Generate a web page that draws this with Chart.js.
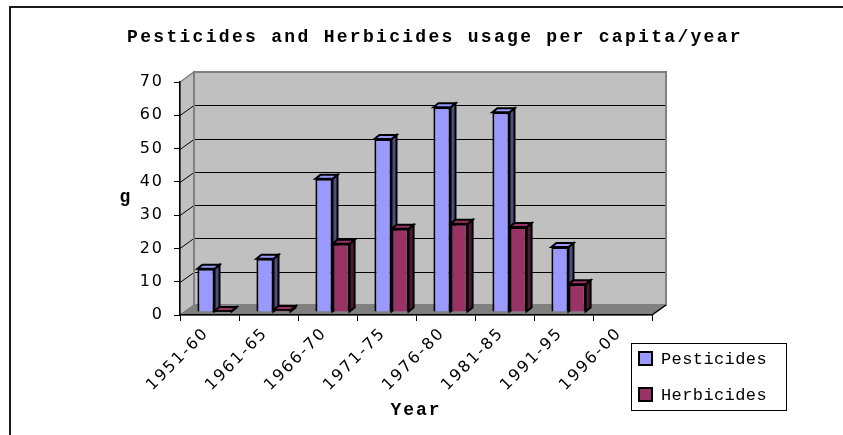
<!DOCTYPE html>
<html>
<head>
<meta charset="utf-8">
<script src="https://cdn.jsdelivr.net/npm/chart.js@4"></script>
<style>
  body { margin: 0; background: #fff; }
  #wrap { width: 843px; height: 435px; }
</style>
</head>
<body>
<div id="wrap"><canvas id="usageChart"></canvas></div>
<script>
const chartTitle = 'Pesticides and Herbicides usage per capita/year';
const yAxisTitle = 'g';
const xAxisTitle = 'Year';
const periods = ['1951-60', '1961-65', '1966-70', '1971-75', '1976-80', '1981-85', '1991-95', '1996-00'];
const pesticides = [13, 16, 40, 52, 61.5, 60, 19.5, null];
const herbicides = [0.3, 0.6, 20.5, 25, 26.5, 25.5, 8.3, null];
const yTicks = [0, 10, 20, 30, 40, 50, 60, 70];

// excel-like 3d look
const wallDepth = { x: 14, y: -10 };
const barShift = { x: 5, y: -3 };
const barDepth = { x: 5, y: -4 };

function poly(ctx, pts, fill, stroke, lw) {
    ctx.beginPath();
    ctx.moveTo(pts[0][0], pts[0][1]);
    for (let i = 1; i < pts.length; i++) ctx.lineTo(pts[i][0], pts[i][1]);
    ctx.closePath();
    if (fill) { ctx.fillStyle = fill; ctx.fill(); }
    if (stroke) { ctx.strokeStyle = stroke; ctx.lineWidth = lw; ctx.stroke(); }
}

const excel3d = {
    id: 'excel3d',
    beforeDraw(chart) {
        const ctx = chart.ctx;
        const a = chart.chartArea;
        const y = chart.scales.y;
        const d = wallDepth;
        ctx.save();
        ctx.fillStyle = '#fff';
        ctx.fillRect(0, 0, chart.width, chart.height);

        // outer frame (top + left only are visible)
        ctx.strokeStyle = '#1a1a1a';
        ctx.lineWidth = 2;
        ctx.beginPath();
        ctx.moveTo(10, chart.height);
        ctx.lineTo(10, 7);
        ctx.lineTo(chart.width, 7);
        ctx.stroke();

        // walls and floor
        ctx.fillStyle = '#c0c0c0';
        ctx.fillRect(a.left + d.x, a.top + d.y, a.right - a.left, a.bottom - a.top);
        poly(ctx, [[a.left, a.top], [a.left + d.x, a.top + d.y], [a.left + d.x, a.bottom + d.y], [a.left, a.bottom]], '#c0c0c0', '#808080', 1.5);
        poly(ctx, [[a.left, a.bottom], [a.left + d.x, a.bottom + d.y], [a.right + d.x, a.bottom + d.y], [a.right, a.bottom]], '#808080', '#808080', 1);

        // gridlines on side wall + back wall
        ctx.strokeStyle = '#000';
        ctx.lineWidth = 1;
        y.ticks.forEach(t => {
            if (t.value === y.min || t.value === y.max) return;
            const py = Math.round(y.getPixelForValue(t.value)) + 0.5;
            ctx.beginPath();
            ctx.moveTo(a.left, py);
            ctx.lineTo(a.left + d.x, py + d.y);
            ctx.lineTo(a.right + d.x, py + d.y);
            ctx.stroke();
        });

        ctx.strokeStyle = '#808080';
        ctx.lineWidth = 2;
        ctx.strokeRect(a.left + d.x, a.top + d.y, a.right - a.left, a.bottom - a.top);

        ctx.strokeStyle = '#000';
        ctx.lineWidth = 1.5;
        ctx.beginPath();
        ctx.moveTo(a.right, a.bottom);
        ctx.lineTo(a.right + d.x, a.bottom + d.y);
        ctx.stroke();
        ctx.restore();

        ctx.letterSpacing = '2px';
    },
    beforeDatasetsDraw(chart) {
        const ctx = chart.ctx;
        ctx.save();
        ctx.translate(barShift.x, barShift.y);
        chart.data.datasets.forEach((ds, i) => {
            const meta = chart.getDatasetMeta(i);
            meta.data.forEach((bar, idx) => {
                if (ds.data[idx] == null) return;
                const p = bar.getProps(['x', 'y', 'base', 'width'], true);
                const l = p.x - p.width / 2;
                const r = p.x + p.width / 2;
                poly(ctx, [[r, p.y], [r + barDepth.x, p.y + barDepth.y], [r + barDepth.x, p.base + barDepth.y], [r, p.base]], ds.sideColor, '#000', 2);
                poly(ctx, [[l, p.y], [l + barDepth.x, p.y + barDepth.y], [r + barDepth.x, p.y + barDepth.y], [r, p.y]], ds.topColor, '#000', 2);
            });
        });
    },
    afterDatasetsDraw(chart) {
        chart.ctx.restore();
    },
    afterDraw(chart) {
        const ctx = chart.ctx;
        ctx.save();
        ctx.fillStyle = '#000';

        // title
        ctx.letterSpacing = '2.3px';
        ctx.font = 'bold 18px "Liberation Mono"';
        ctx.textAlign = 'center';
        ctx.textBaseline = 'middle';
        ctx.fillText(chartTitle, 435, 37);

        // y axis title, not rotated
        ctx.letterSpacing = '0px';
        ctx.textBaseline = 'alphabetic';
        ctx.fillText(yAxisTitle, 125, 202);

        // legend
        ctx.fillStyle = '#fff';
        ctx.fillRect(631, 343, 155, 67);
        ctx.strokeStyle = '#000';
        ctx.lineWidth = 1;
        ctx.strokeRect(631.5, 343.5, 155, 67);
        ctx.font = '17px "Liberation Mono"';
        ctx.letterSpacing = '0.4px';
        ctx.textAlign = 'left';
        ctx.textBaseline = 'middle';
        chart.data.datasets.forEach((ds, i) => {
            const top = 352 + i * 36;
            ctx.fillStyle = ds.backgroundColor;
            ctx.fillRect(639, top, 13, 13);
            ctx.lineWidth = 2;
            ctx.strokeRect(639, top, 13, 13);
            ctx.fillStyle = '#000';
            ctx.fillText(ds.label, 661, top + 7);
        });
        ctx.restore();
        ctx.letterSpacing = '0px';
    }
};

const tickFont = { family: 'DejaVu Sans', size: 16 };

const ctx = document.getElementById('usageChart').getContext('2d');
const usageChart = new Chart(ctx, {
    type: 'bar',
    data: {
        labels: periods,
        datasets: [{
            label: 'Pesticides',
            data: pesticides,
            backgroundColor: '#9999ff',
            sideColor: '#4d4d80',
            topColor: '#9999ff',
            borderColor: '#000',
            borderWidth: 2
        }, {
            label: 'Herbicides',
            data: herbicides,
            backgroundColor: '#993366',
            sideColor: '#4d1a33',
            topColor: '#993366',
            borderColor: '#000',
            borderWidth: 2
        }]
    },
    options: {
        responsive: true,
        maintainAspectRatio: false,
        animation: false,
        devicePixelRatio: 1,
        layout: { padding: { top: 82, right: 191, left: 0, bottom: 0 } },
        datasets: {
            bar: { categoryPercentage: 0.58, barPercentage: 1 }
        },
        plugins: {
            legend: { display: false },
            title: { display: false },
            tooltip: { enabled: false }
        },
        scales: {
            x: {
                afterFit(scale) { scale.height = 120; },
                grid: { drawOnChartArea: false, drawTicks: true, tickLength: 6, color: '#000' },
                border: { display: true, color: '#000', width: 1.5 },
                ticks: {
                    font: tickFont,
                    color: '#000',
                    minRotation: 45,
                    maxRotation: 45,
                    autoSkip: false,
                    padding: 3,
                    labelOffset: -3
                },
                title: {
                    display: true,
                    text: xAxisTitle,
                    color: '#000',
                    font: { family: 'Liberation Mono', size: 18, weight: 'bold' },
                    padding: { top: 0, bottom: 14 }
                }
            },
            y: {
                afterFit(scale) { scale.width = 180; },
                min: yTicks[0],
                max: yTicks[yTicks.length - 1],
                ticks: {
                    stepSize: yTicks[1] - yTicks[0],
                    font: tickFont,
                    color: '#000',
                    padding: 10
                },
                grid: { drawOnChartArea: false, drawTicks: true, tickLength: 6, color: '#000' },
                border: { display: true, color: '#000', width: 1.5 }
            }
        }
    },
    plugins: [excel3d]
});
</script>
</body>
</html>
